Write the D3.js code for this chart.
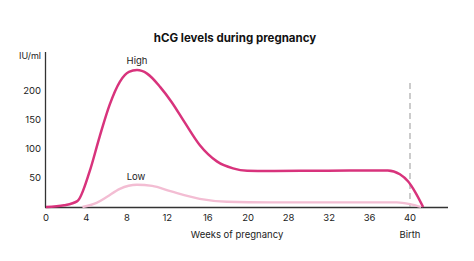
<!DOCTYPE html>
<html>
<head>
<meta charset="utf-8">
<script src="https://cdn.jsdelivr.net/npm/d3@7"></script>
<style>
  body { margin: 0; background: #fff; }
  svg { font-family: Inter, "Noto Sans", sans-serif; }
</style>
</head>
<body>
<div class="main-container"></div>
<script>
// x positions are in axis units (one tick gap = 4 units); tick labels skip 24
const tickPos = [0, 4, 8, 12, 16, 20, 24, 28, 32, 36]
const tickLabels = ["0", "4", "8", "12", "16", "20", "28", "32", "36", "40"]
const yTicks = [50, 100, 150, 200]

const highPos = [0, 1.8, 3.1, 4.3, 5.3, 6.3, 7.3, 8.2, 9.0, 10.0, 11.3, 12.4, 13.7, 15.2, 16.9, 18.5, 19.9, 22.0, 26.0, 30.0, 33.8, 35.0, 35.8, 36.5, 37.3]
const highVal = [0, 3, 10, 60, 120, 175, 214, 231, 234, 228, 205, 180, 145, 106, 78, 66, 62, 61.5, 62, 62.3, 62.5, 56, 44, 26, 0]

const lowPos = [3.6, 5.0, 6.0, 7.3, 9.0, 10.5, 12.3, 15.2, 17.9, 22.2, 28.0, 34.7, 36.0, 37.1]
const lowVal = [0, 7, 17, 31, 38, 36, 27, 14, 9, 8, 8, 8, 5, 0]

const birthPos = 36
const birthTop = 212

function main() {
  const W = 474, H = 261
  const svg = d3.select(".main-container").append("svg").attr("width", W).attr("height", H)

  const x = d3.scaleLinear().domain([0, 36]).range([46, 410])
  const y = d3.scaleLinear().domain([0, 200]).range([207, 90])

  svg.append("text").attr("x", 235).attr("y", 42).attr("text-anchor", "middle")
    .attr("font-size", 11.5).attr("font-weight", 700).attr("fill", "#111")
    .text("hCG levels during pregnancy")

  // axes
  svg.append("line").attr("x1", 45.5).attr("x2", 45.5).attr("y1", 52).attr("y2", 207.5)
    .attr("stroke", "#333").attr("stroke-width", 1.3)
  svg.append("line").attr("x1", 45).attr("x2", 448).attr("y1", 207.5).attr("y2", 207.5)
    .attr("stroke", "#333").attr("stroke-width", 1.3)

  svg.append("text").attr("x", 41).attr("y", 59).attr("text-anchor", "end")
    .attr("font-size", 9).attr("fill", "#222").text("IU/ml")

  svg.selectAll(".yt").data(yTicks).join("text").attr("class", "yt")
    .attr("x", 41).attr("y", (d) => y(d) + 3.5).attr("text-anchor", "end")
    .attr("font-size", 9.5).attr("fill", "#222").text((d) => d)

  svg.selectAll(".xt").data(tickPos).join("text").attr("class", "xt")
    .attr("x", (d) => x(d)).attr("y", 221).attr("text-anchor", "middle")
    .attr("font-size", 9.5).attr("fill", "#222").text((d, i) => tickLabels[i])

  svg.append("text").attr("x", 237).attr("y", 238).attr("text-anchor", "middle")
    .attr("font-size", 9.5).attr("fill", "#222").text("Weeks of pregnancy")
  svg.append("text").attr("x", x(birthPos)).attr("y", 238).attr("text-anchor", "middle")
    .attr("font-size", 9.5).attr("fill", "#222").text("Birth")

  // birth marker
  svg.append("line").attr("x1", x(birthPos)).attr("x2", x(birthPos))
    .attr("y1", y(birthTop)).attr("y2", 207)
    .attr("stroke", "#aaa").attr("stroke-width", 1.2).attr("stroke-dasharray", "6,4")

  const line = d3.line().x((d) => x(d[0])).y((d) => y(d[1])).curve(d3.curveMonotoneX)

  svg.append("path").datum(d3.zip(lowPos, lowVal)).attr("d", line)
    .attr("fill", "none").attr("stroke", "#f3bdd3").attr("stroke-width", 2.3)
  svg.append("path").datum(d3.zip(highPos, highVal)).attr("d", line)
    .attr("fill", "none").attr("stroke", "#d8337c").attr("stroke-width", 2.5)

  svg.append("text").attr("x", x(9)).attr("y", y(234) - 6).attr("text-anchor", "middle")
    .attr("font-size", 9.5).attr("fill", "#222").text("High")
  svg.append("text").attr("x", x(8.9)).attr("y", y(38) - 5).attr("text-anchor", "middle")
    .attr("font-size", 9.5).attr("fill", "#222").text("Low")
}
main();
</script>
</body>
</html>
